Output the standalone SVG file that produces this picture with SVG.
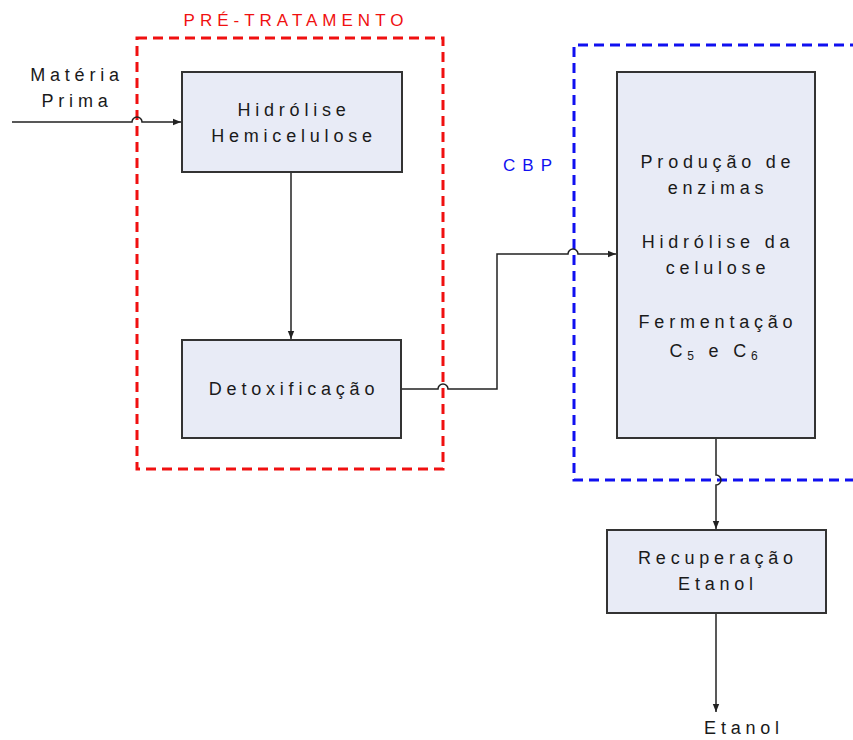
<svg xmlns="http://www.w3.org/2000/svg" width="853" height="740" viewBox="0 0 853 740">
<defs>
<marker id="arr" viewBox="0 0 10 10" refX="10" refY="5" markerWidth="8" markerHeight="8" markerUnits="userSpaceOnUse" orient="auto">
<path d="M0,1 L10,5 L0,9 Z" fill="#222"/>
</marker>
</defs>
<style>
.box{fill:#e8ebf6;stroke:#333;stroke-width:2}
.t{font-family:"Liberation Sans",Arial,sans-serif;font-size:18px;fill:#1a1a1a;text-anchor:middle;letter-spacing:4.8px}
.lbl{font-family:"Liberation Sans",Arial,sans-serif;font-size:17px;text-anchor:middle;letter-spacing:5px}
.conn{fill:none;stroke:#222;stroke-width:1.5}
.grpR{fill:none;stroke:#f01010;stroke-width:3;stroke-dasharray:10,6}
.grpB{fill:none;stroke:#1010f0;stroke-width:3;stroke-dasharray:10,6}
</style>
<g id="pretratamento">
<rect class="grpR" x="137" y="38" width="306" height="431"/>
<text class="lbl" x="296" y="26" fill="#f01010">PRÉ-TRATAMENTO</text>
</g>
<g id="cbp">
<path class="grpB" d="M860,45 H574 V480 H860"/>
<text class="lbl" x="531" y="171" fill="#1010f0" style="letter-spacing:7px">CBP</text>
</g>
<g id="connectors">
<path class="conn" d="M12,122 H132 A5,5 0 0 1 142,122 H181" marker-end="url(#arr)"/>
<path class="conn" d="M291,172 V339" marker-end="url(#arr)"/>
<path class="conn" d="M402,389 H438 A5,5 0 0 1 448,389 H497 V254 H568 A5,5 0 0 1 578,254 H616" marker-end="url(#arr)"/>
<path class="conn" d="M716,439 V475 A5,5 0 0 1 716,485 V529" marker-end="url(#arr)"/>
<path class="conn" d="M716,614 V712" marker-end="url(#arr)"/>
</g>
<g id="materia-prima">
<text class="t" x="77" y="81">Matéria</text>
<text class="t" x="77" y="107">Prima</text>
</g>
<g id="hidrolise-hemicelulose">
<rect class="box" x="182" y="72" width="220" height="100"/>
<text class="t" x="294" y="116">Hidrólise</text>
<text class="t" x="294" y="142">Hemicelulose</text>
</g>
<g id="detoxificacao">
<rect class="box" x="182" y="340" width="219" height="98"/>
<text class="t" x="294" y="395">Detoxificação</text>
</g>
<g id="cbp-reator">
<rect class="box" x="617" y="72" width="198" height="366"/>
<text class="t" x="718" y="168">Produção de</text>
<text class="t" x="718" y="194">enzimas</text>
<text class="t" x="718" y="248">Hidrólise da</text>
<text class="t" x="718" y="274">celulose</text>
<text class="t" x="718" y="328">Fermentação</text>
<text class="t" x="716" y="357">C<tspan font-size="12" dy="3">5</tspan><tspan dy="-3"> e C</tspan><tspan font-size="12" dy="3">6</tspan></text>
</g>
<g id="recuperacao-etanol">
<rect class="box" x="607" y="530" width="219" height="83"/>
<text class="t" x="718" y="564">Recuperação</text>
<text class="t" x="718" y="590">Etanol</text>
</g>
<g id="etanol">
<text class="t" x="744" y="734">Etanol</text>
</g>
</svg>
